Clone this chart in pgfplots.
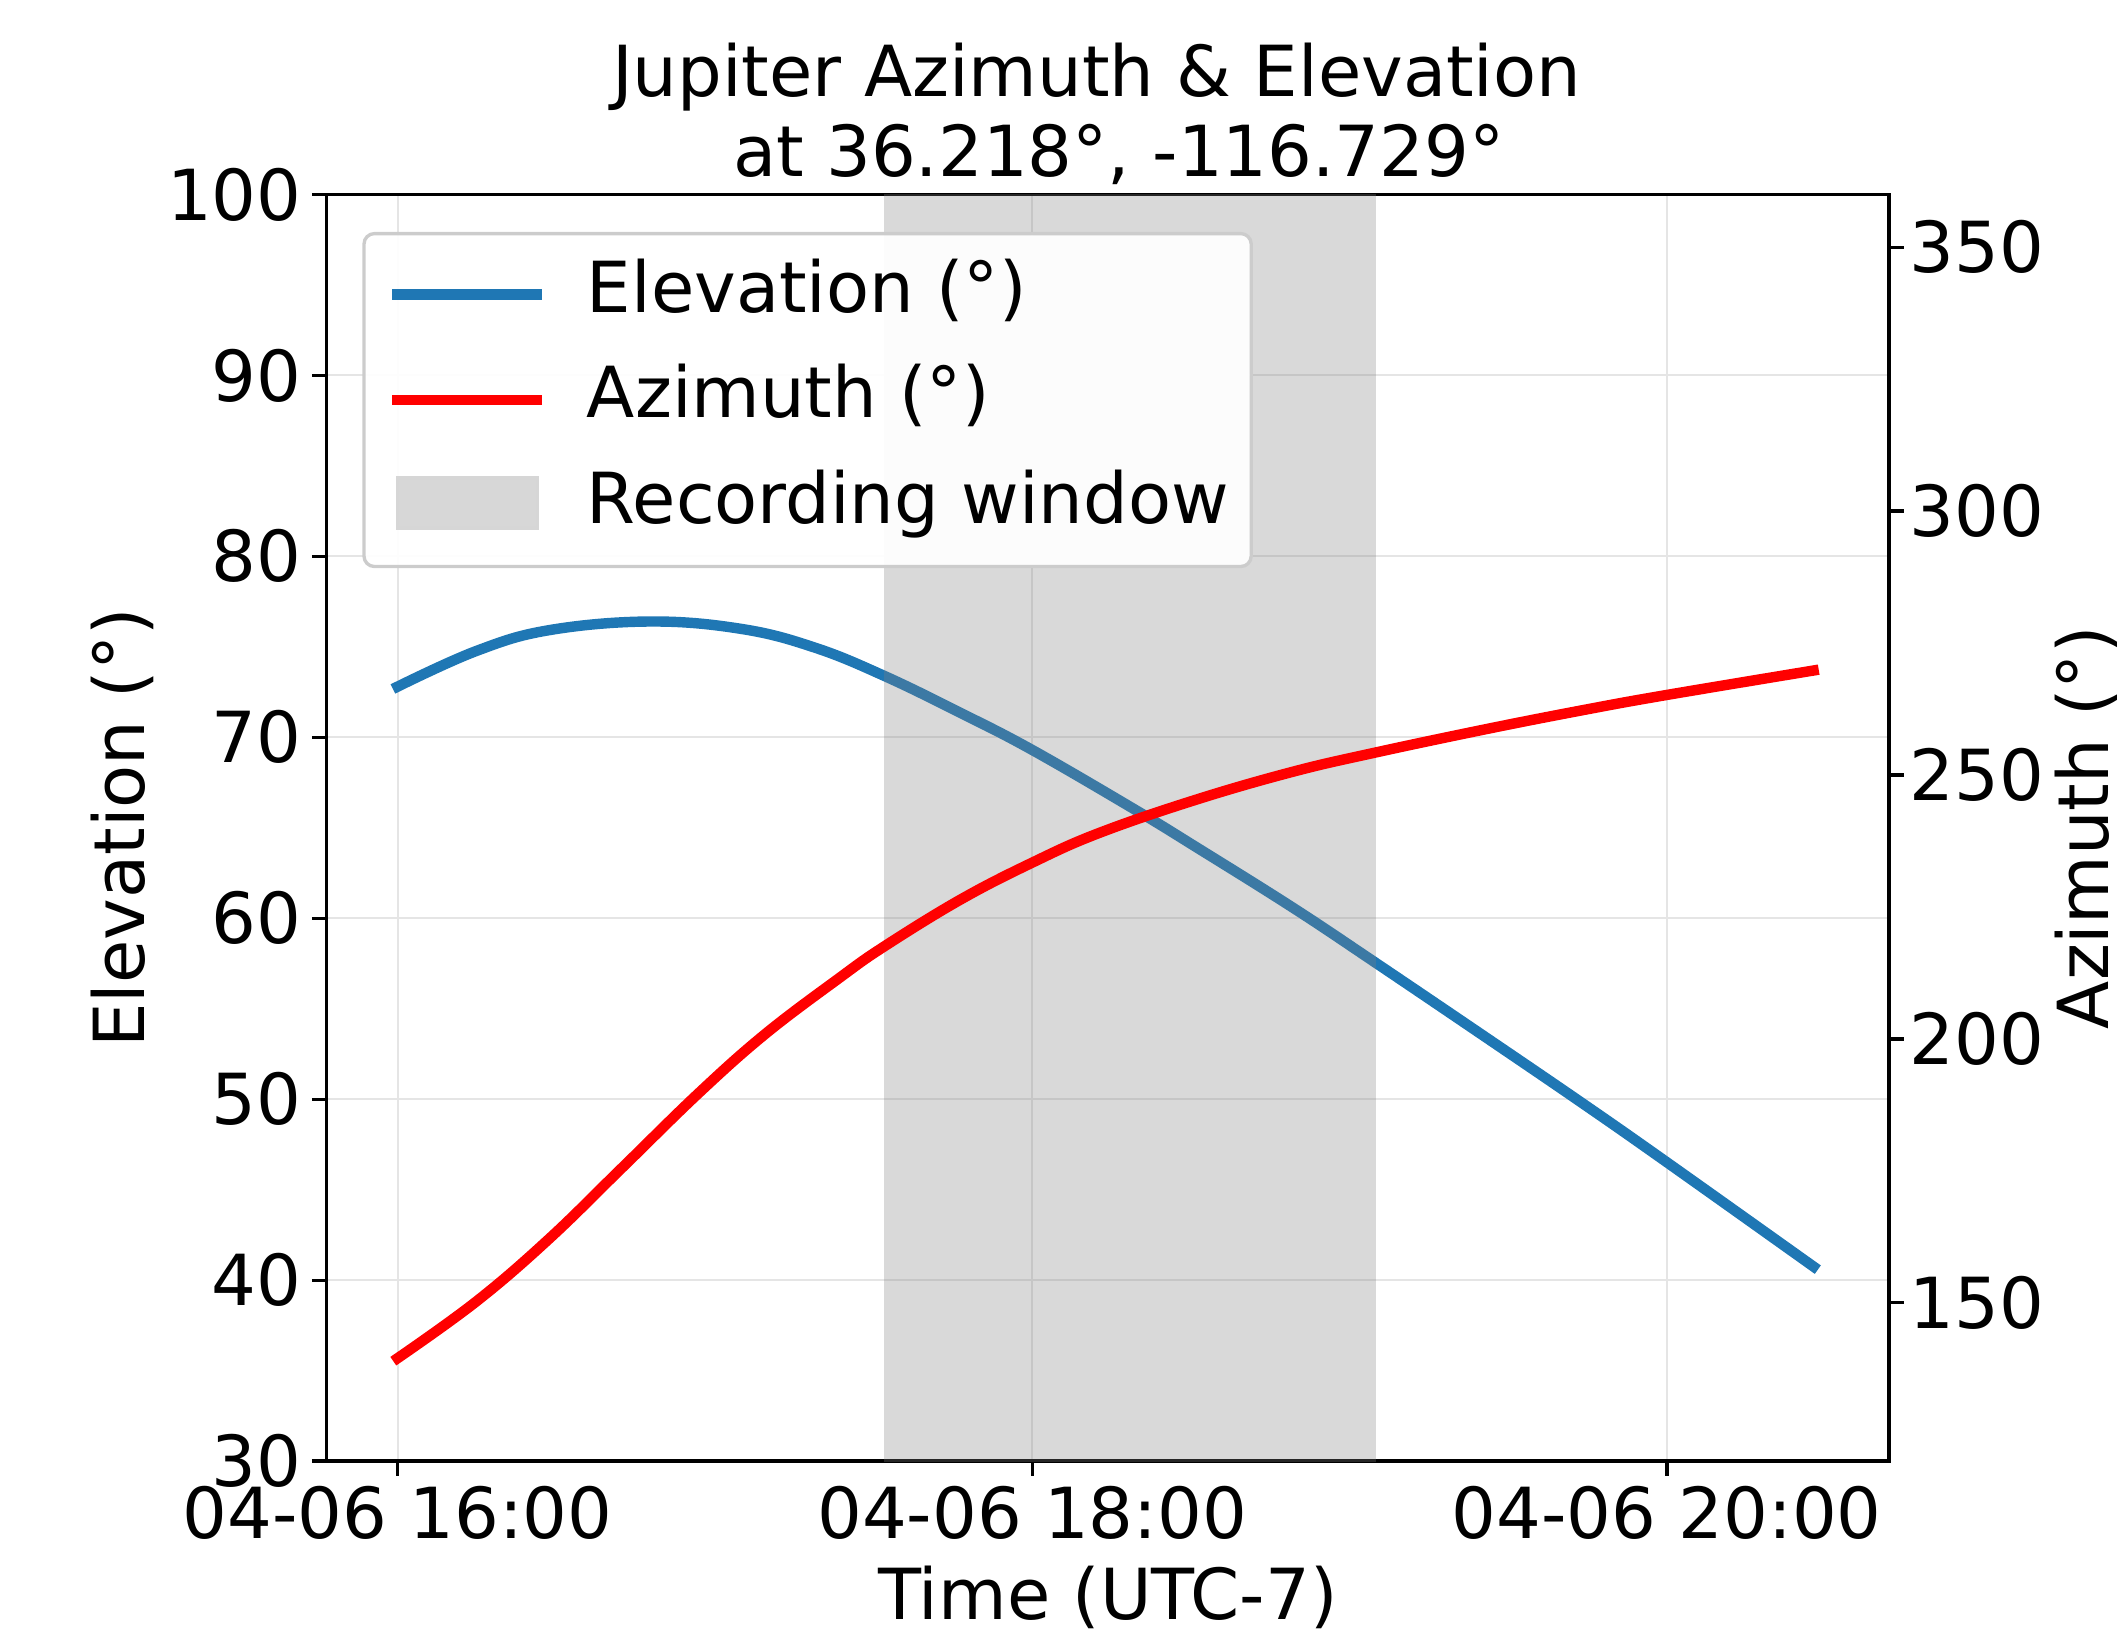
\documentclass[border=0pt]{standalone}
\usepackage{fontspec}
\setmainfont{DejaVu Sans}
\usepackage{pgfplots}
\pgfplotsset{compat=1.18}
\newcommand\f{\fontsize{16.9pt}{20.3pt}\selectfont}
\definecolor{tabblue}{HTML}{1F77B4}
\begin{document}
\begin{tikzpicture}
\pgfplotsset{
  common/.style={
    scale only axis, width=375pt, height=304pt,
    at={(0,0)}, anchor=south west,
    xmin=-0.224, xmax=4.70,
    tick align=outside, major tick length=3.5pt,
    every tick/.style={black, line width=0.8pt},
    axis line style={line width=0.8pt},
    ticklabel style={font=\f, inner sep=0pt},
    /pgf/number format/assume math mode=true,
  }
}
\begin{axis}[common,
  ymin=30, ymax=100, ytick={30,40,...,100},
  xtick={0,2,4}, xticklabels={04-06 16:00, 04-06 18:00, 04-06 20:00},
  xtick pos=bottom, ytick pos=left,
  grid=major, major grid style={black!10, line width=0.5pt},
  xlabel={Time (UTC-7)}, ylabel={Elevation (°)},
  xlabel style={font=\f, at={(axis description cs:0.5,0)}, anchor=base, yshift=-37.9pt, inner sep=0pt},
  ylabel style={font=\f, at={([xshift=-43.8pt]axis description cs:0,0.5)}, anchor=base, inner sep=0pt},
  xticklabel style={anchor=base, yshift=-15pt},
  yticklabel style={anchor=east, xshift=-2.3pt},
  title={Jupiter Azimuth \& Elevation\mbox{\hspace{\fontdimen2\font}}\\\mbox{\hspace{\fontdimen2\font}}at 36.218°, -116.729°},
  title style={font=\fontsize{16.9pt}{19.1pt}\selectfont, align=center, at={(axis description cs:0.5,1)}, anchor=south, yshift=-3.8pt, inner sep=0pt},
]
\addplot[tabblue, line width=2.5pt, smooth, tension=0.65, line cap=rect] coordinates {
(0,72.8) (0.248,74.77) (0.477,75.92) (0.797,76.4) (1.087,75.98) (1.316,74.95) (1.533,73.4)
(1.774,71.35) (2.0,69.3) (2.324,66.0) (2.515,63.95) (2.82,60.6) (3.077,57.6) (3.431,53.4)
(3.736,49.75) (3.993,46.6) (4.462,40.75)
};
\end{axis}
\begin{axis}[common,
  ymin=120, ymax=360, ytick={150,200,...,350},
  axis y line*=right, axis x line=none,
  yticklabel style={anchor=west, xshift=1.2pt},
  ylabel={Azimuth (°)},
  ylabel style={font=\f, at={([xshift=52.6pt]axis description cs:1,0.5)}, anchor=base, inner sep=0pt},
  legend image code/.code={\draw[#1, line cap=rect] (1.25pt,0pt) -- (34.75pt,0pt); \path (0pt,0pt) (36pt,0pt);},
  legend style={at={(0,1)}, anchor=north west, xshift=8.6pt, yshift=-9pt,
    font=\f, draw=black!20, line width=0.8pt, rounded corners=2.5pt,
    fill=white, fill opacity=0.95, draw opacity=1, text opacity=1,
    inner xsep=5.4pt, inner ysep=6.6pt, row sep=9.2pt, column sep=9.6pt,
    nodes={inner sep=0pt, text height=12.3pt, text depth=3.8pt}},
  legend cell align=left,
]
\addlegendimage{tabblue, line width=2.5pt}
\addlegendentry{Elevation (°)}
\addplot[fill=gray, fill opacity=0.3, draw=none, forget plot] coordinates {(1.533,100) (1.533,400) (3.083,400) (3.083,100)} -- cycle;
\addplot[red, line width=2.5pt, smooth, tension=0.65, line cap=rect] coordinates {
(0,139.5) (0.248,150.25) (0.477,162.1) (0.706,175.5) (0.95,189.8) (1.16,201.0) (1.391,211.5)
(1.533,217.5) (1.774,226.4) (2.0,233.4) (2.21,239.0) (2.515,245.3) (2.82,250.6) (3.077,254.2)
(3.431,258.7) (3.736,262.3) (3.993,265.1) (4.462,269.8)
};
\addlegendentry{Azimuth (°)}
\addlegendimage{legend image code/.code={\fill[black!16, sharp corners] (1.4pt,-5.4pt) rectangle (35pt,6.6pt); \path (0pt,0pt) (36pt,0pt);}}
\addlegendentry{Recording window}
\end{axis}
\pgfresetboundingbox
\useasboundingbox (-78.36pt,-40.8pt) rectangle (429.7pt,350.66pt);
\end{tikzpicture}
\end{document}
